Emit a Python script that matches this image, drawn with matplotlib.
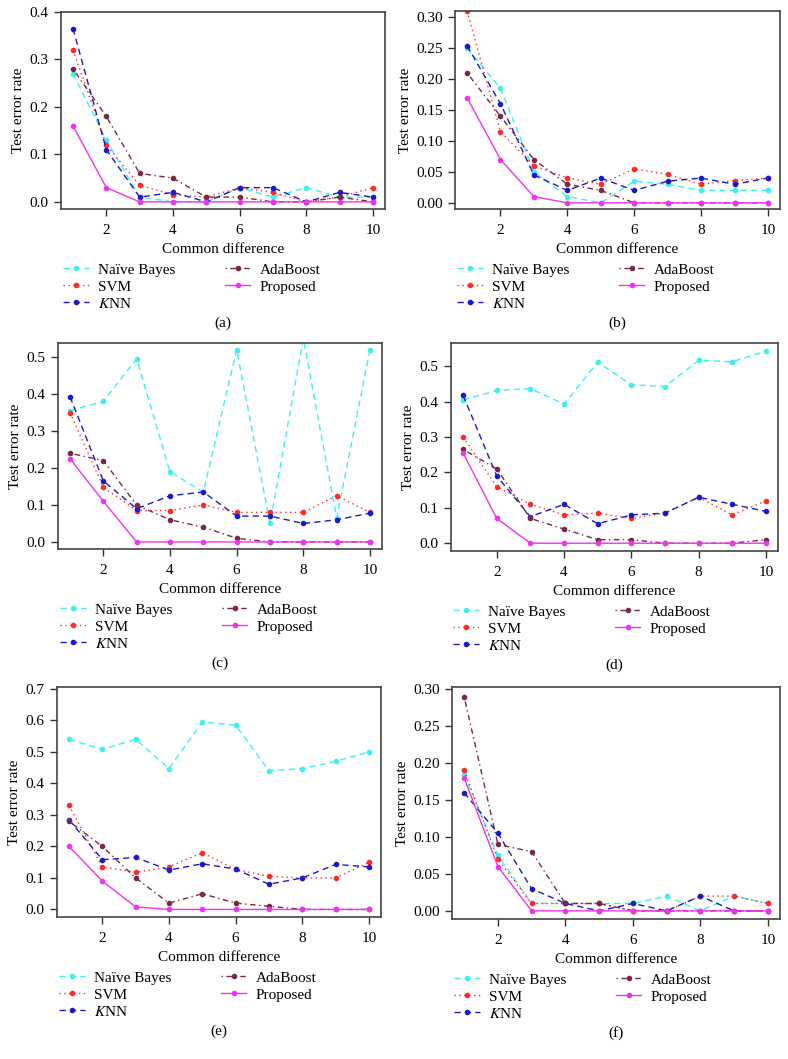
import numpy as np
import matplotlib
matplotlib.use("Agg")
import matplotlib.pyplot as plt

plt.rcParams['font.family'] = ['Liberation Serif', 'DejaVu Serif']
plt.rcParams['mathtext.fontset'] = 'stix'

W, H = 788, 1059

x = np.arange(1, 11)
methods = ['Naïve Bayes', 'SVM', r'$\mathit{K}$NN', 'AdaBoost', 'Proposed']
panel_labels = ['(a)', '(b)', '(c)', '(d)', '(e)', '(f)']

# test error rates per panel, one list per method
nb_a = [0.27, 0.13, 0.01, 0.0, 0.0, 0.03, 0.01, 0.03, 0.01, 0.01]
svm_a = [0.32, 0.12, 0.035, 0.015, 0.01, 0.03, 0.02, 0.0, 0.01, 0.03]
knn_a = [0.365, 0.11, 0.01, 0.02, 0.0, 0.03, 0.03, 0.0, 0.02, 0.01]
ada_a = [0.28, 0.18, 0.06, 0.05, 0.01, 0.01, 0.0, 0.0, 0.01, 0.0]
prop_a = [0.16, 0.03, 0.0, 0.0, 0.0, 0.0, 0.0, 0.0, 0.0, 0.0]

nb_b = [0.25, 0.185, 0.05, 0.01, 0.0, 0.035, 0.03, 0.02, 0.02, 0.02]
svm_b = [0.31, 0.115, 0.06, 0.04, 0.03, 0.055, 0.046, 0.03, 0.036, 0.04]
knn_b = [0.254, 0.16, 0.045, 0.02, 0.04, 0.02, 0.035, 0.04, 0.03, 0.04]
ada_b = [0.21, 0.14, 0.07, 0.03, 0.02, 0.0, 0.0, 0.0, 0.0, 0.0]
prop_b = [0.17, 0.07, 0.01, 0.0, 0.0, 0.0, 0.0, 0.0, 0.0, 0.0]

nb_c = [0.355, 0.38, 0.495, 0.19, 0.135, 0.52, 0.05, 0.55, 0.065, 0.52]
svm_c = [0.35, 0.148, 0.085, 0.085, 0.1, 0.08, 0.08, 0.08, 0.125, 0.08]
knn_c = [0.393, 0.165, 0.09, 0.125, 0.135, 0.07, 0.07, 0.05, 0.06, 0.078]
ada_c = [0.24, 0.22, 0.1, 0.06, 0.04, 0.01, 0.0, 0.0, 0.0, 0.0]
prop_c = [0.225, 0.11, 0.0, 0.0, 0.0, 0.0, 0.0, 0.0, 0.0, 0.0]

nb_d = [0.405, 0.432, 0.437, 0.393, 0.512, 0.448, 0.443, 0.517, 0.513, 0.543]
svm_d = [0.3, 0.16, 0.11, 0.08, 0.085, 0.07, 0.085, 0.13, 0.08, 0.12]
knn_d = [0.418, 0.19, 0.075, 0.11, 0.055, 0.08, 0.085, 0.13, 0.11, 0.09]
ada_d = [0.265, 0.21, 0.07, 0.04, 0.01, 0.01, 0.0, 0.0, 0.0, 0.01]
prop_d = [0.255, 0.07, 0.0, 0.0, 0.0, 0.0, 0.0, 0.0, 0.0, 0.0]

nb_e = [0.54, 0.508, 0.54, 0.447, 0.595, 0.585, 0.44, 0.447, 0.47, 0.5]
svm_e = [0.33, 0.135, 0.118, 0.135, 0.18, 0.127, 0.105, 0.1, 0.1, 0.15]
knn_e = [0.285, 0.158, 0.165, 0.125, 0.145, 0.128, 0.08, 0.1, 0.143, 0.135]
ada_e = [0.28, 0.2, 0.1, 0.02, 0.05, 0.02, 0.01, 0.0, 0.0, 0.0]
prop_e = [0.2, 0.09, 0.008, 0.0, 0.0, 0.0, 0.0, 0.0, 0.0, 0.0]

nb_f = [0.185, 0.075, 0.01, 0.01, 0.01, 0.01, 0.02, 0.0, 0.02, 0.01]
svm_f = [0.19, 0.07, 0.01, 0.01, 0.01, 0.0, 0.0, 0.02, 0.02, 0.01]
knn_f = [0.16, 0.105, 0.03, 0.01, 0.0, 0.01, 0.0, 0.02, 0.0, 0.0]
ada_f = [0.29, 0.09, 0.08, 0.01, 0.01, 0.0, 0.0, 0.0, 0.0, 0.0]
prop_f = [0.18, 0.06, 0.0, 0.0, 0.0, 0.0, 0.0, 0.0, 0.0, 0.0]

panels = [
    [nb_a, svm_a, knn_a, ada_a, prop_a],
    [nb_b, svm_b, knn_b, ada_b, prop_b],
    [nb_c, svm_c, knn_c, ada_c, prop_c],
    [nb_d, svm_d, knn_d, ada_d, prop_d],
    [nb_e, svm_e, knn_e, ada_e, prop_e],
    [nb_f, svm_f, knn_f, ada_f, prop_f],
]

styles = [
    dict(color='#3ff0f0', ls=(0, (4.5, 3))),
    dict(color='#ff2a2a', ls=(0, (1, 2.5))),
    dict(color='#1a1acc', ls=(0, (4.5, 3))),
    dict(color='#7a2845', ls=(0, (1, 2.5, 4, 2.5))),
    dict(color='#f033f0', ls='-'),
]

# axes boxes in pixels: left, top, right, bottom
boxes = [
    (61, 12, 385, 209), (455, 11, 780, 209),
    (58, 343, 382, 549), (451, 343, 778, 551),
    (57, 687, 381, 917), (452, 687, 780, 919),
]
ylims = [(-0.015, 0.4), (-0.01, 0.31), (-0.019, 0.538),
         (-0.022, 0.566), (-0.024, 0.706), (-0.011, 0.303)]
yticks = [np.arange(0, 0.41, 0.1), np.arange(0, 0.31, 0.05),
          np.arange(0, 0.51, 0.1), np.arange(0, 0.51, 0.1),
          np.arange(0, 0.71, 0.1), np.arange(0, 0.31, 0.05)]
yfmt = ['%.1f', '%.2f', '%.1f', '%.1f', '%.1f', '%.2f']


def rect(l, t, r, b):
    return [l / W, 1 - b / H, (r - l) / W, (b - t) / H]


fig = plt.figure(figsize=(W / 100, H / 100), dpi=100)

for i, series in enumerate(panels):
    l, t, r, b = boxes[i]
    ax = fig.add_axes(rect(l, t, r, b))
    for vals, st, name in zip(series, styles, methods):
        ax.plot(x, vals, marker='o', ms=3.0, lw=1, label=name, **st)
    ax.set_xlim(0.64, 10.36)
    ax.set_ylim(*ylims[i])
    ax.set_xticks([2, 4, 6, 8, 10])
    ax.set_yticks(yticks[i])
    ax.set_yticklabels([yfmt[i] % v for v in yticks[i]])
    ax.tick_params(direction='out', length=5, width=1, labelsize=11,
                   color='#333333', pad=4)
    ax.tick_params(axis='x', pad=6)
    for s in ax.spines.values():
        s.set_color('#444444')
        s.set_linewidth(1.2)
    ax.set_xlabel('Common difference', fontsize=11, labelpad=4)
    ax.set_ylabel('Test error rate', fontsize=11, labelpad=3)
    ax.legend(loc='upper left', bbox_to_anchor=((l - 4) / W, 1 - (b + 48) / H),
              bbox_transform=fig.transFigure, ncol=2, frameon=False,
              fontsize=11, handlelength=1.7, handletextpad=0.6,
              columnspacing=3.2, labelspacing=0.2, borderaxespad=0)
    fig.text((l + r) / 2 / W, 1 - (b + 114) / H, panel_labels[i],
             ha='center', va='center', fontsize=11)

fig.savefig('out.png', dpi=100)
